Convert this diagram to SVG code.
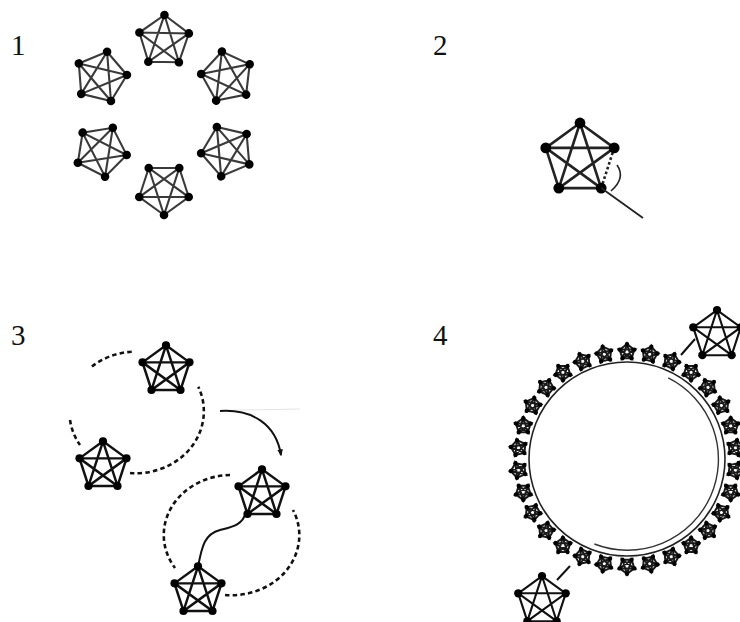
<svg xmlns="http://www.w3.org/2000/svg" xmlns:xlink="http://www.w3.org/1999/xlink" width="740" height="622" viewBox="0 0 740 622">
<style>
.lbl{font-family:"Liberation Serif","DejaVu Serif",serif;font-size:29px;fill:#111}
.p1{stroke:#3a3a3a;stroke-width:2.1;fill:#000}
.p3{stroke:#111;stroke-width:2.6;fill:#000}
.p4{stroke:#111;stroke-width:2.2;fill:#000}
.st{stroke:#1a1a1a;stroke-width:2;fill:#000}
.dash{fill:none;stroke:#111;stroke-width:2.6;stroke-dasharray:4.5 3.2}
.ln{fill:none;stroke:#111;stroke-width:2}
</style>
<defs>
<g id="k5">
<path fill="none" d="M0,-26 L24.73,-8.03 L15.28,21.03 L-15.28,21.03 L-24.73,-8.03 Z M0,-26 L15.28,21.03 L-24.73,-8.03 L24.73,-8.03 L-15.28,21.03 Z"/>
<g stroke="none">
<circle cx="0" cy="-26" r="4.3"/><circle cx="24.73" cy="-8.03" r="4.3"/><circle cx="15.28" cy="21.03" r="4.3"/><circle cx="-15.28" cy="21.03" r="4.3"/><circle cx="-24.73" cy="-8.03" r="4.3"/>
</g>
</g>
<g id="s5">
<path fill="none" d="M0,-7.8 L7.42,-2.41 L4.58,6.31 L-4.58,6.31 L-7.42,-2.41 Z M0,-7.8 L4.58,6.31 L-7.42,-2.41 L7.42,-2.41 L-4.58,6.31 Z"/>
<g stroke="none">
<circle cx="0" cy="-7.8" r="2.2"/><circle cx="7.42" cy="-2.41" r="2.2"/><circle cx="4.58" cy="6.31" r="2.2"/><circle cx="-4.58" cy="6.31" r="2.2"/><circle cx="-7.42" cy="-2.41" r="2.2"/>
</g>
</g>
<marker id="ah" viewBox="0 0 10 10" refX="8" refY="5" markerWidth="7" markerHeight="7" orient="auto-start-reverse" markerUnits="userSpaceOnUse">
<path d="M0,1 L10,5 L0,9 Z" fill="#111"/>
</marker>
</defs>

<g id="labels">
<text class="lbl" x="11" y="55">1</text>
<text class="lbl" x="433" y="55">2</text>
<text class="lbl" x="11" y="345">3</text>
<text class="lbl" x="433" y="345">4</text>
</g>

<!-- Panel 1 -->
<g id="panel1">
<use id="p1-top" class="p1" xlink:href="#k5" href="#k5" transform="translate(164,41) rotate(1)"/>
<use id="p1-tl" class="p1" xlink:href="#k5" href="#k5" transform="translate(101,77) rotate(85.5)"/>
<use id="p1-tr" class="p1" xlink:href="#k5" href="#k5" transform="translate(227,77) rotate(-83.3)"/>
<use id="p1-bl" class="p1" xlink:href="#k5" href="#k5" transform="translate(101,151) rotate(99)"/>
<use id="p1-br" class="p1" xlink:href="#k5" href="#k5" transform="translate(227,151) rotate(-95)"/>
<use id="p1-bot" class="p1" xlink:href="#k5" href="#k5" transform="translate(164,189) rotate(180)"/>
</g>

<!-- Panel 2 -->
<g id="panel2">
<g id="p2-clique" stroke="#222" stroke-width="2.6" fill="none">
<path d="M580,123 L545.8,147.9 M580,123 L614.2,147.9 M580,123 L601.2,188.1 M580,123 L558.8,188.1 M545.8,147.9 L614.2,147.9 M545.8,147.9 L601.2,188.1 M545.8,147.9 L558.8,188.1 M614.2,147.9 L558.8,188.1 M558.8,188.1 L601.2,188.1"/>
<path d="M614.2,147.9 L601.2,188.1" stroke-dasharray="2.5 2.5"/>
<g fill="#000" stroke="none">
<circle cx="580" cy="123" r="5.4"/><circle cx="545.8" cy="147.9" r="5.4"/><circle cx="614.2" cy="147.9" r="5.4"/><circle cx="558.8" cy="188.1" r="5.4"/><circle cx="601.2" cy="188.1" r="5.4"/>
</g>
</g>
<g id="p2-connectors">
<path d="M617,165 Q626,178 611,191" fill="none" stroke="#222" stroke-width="1.6"/>
<line x1="601.2" y1="188.1" x2="643" y2="218" stroke="#222" stroke-width="1.8"/>
</g>
</g>

<!-- Panel 3 -->
<g id="panel3">
<g id="p3-connectors">
<line x1="220" y1="410.5" x2="300" y2="409" stroke="#e4e4e4" stroke-width="1"/>
<path class="dash" d="M131.7,351.7 A68,62 0 0 0 91.7,366.7 M70,420 A68,62 0 0 0 80,445 M130,473 A68,62 0 0 0 198.3,386.7"/>
<path class="dash" d="M230,475 A68,60 0 0 0 175,568 M225,595 A68,60 0 0 0 293,510"/>
<path class="ln" d="M220,411 C252,409 276,424 281,455" marker-end="url(#ah)"/>
<path class="ln" d="M246,512 C243,525 232,527 220,530 C205,534 202,545 198,567"/>
</g>
<use id="p3-a" class="p3" xlink:href="#k5" href="#k5" transform="translate(166,370) scale(0.95)"/>
<use id="p3-b" class="p3" xlink:href="#k5" href="#k5" transform="translate(103,466) scale(0.95)"/>
<use id="p3-c" class="p3" xlink:href="#k5" href="#k5" transform="translate(262,494) scale(0.95)"/>
<use id="p3-d" class="p3" xlink:href="#k5" href="#k5" transform="translate(198,591) scale(0.95)"/>
</g>

<!-- Panel 4 -->
<g id="panel4">
<g id="p4-connectors">
<ellipse cx="627" cy="459" rx="98" ry="97" fill="none" stroke="#222" stroke-width="1.6"/>
<path d="M668.3,377.9 A91,91 0 0 1 594.4,544" fill="none" stroke="#333" stroke-width="1.4"/>
<line x1="695" y1="339" x2="681" y2="355" stroke="#111" stroke-width="2"/>
<line x1="570" y1="566" x2="557" y2="580" stroke="#111" stroke-width="2"/>
</g>
<g id="p4-ring" class="st">
<use xlink:href="#s5" href="#s5" transform="translate(627,352) rotate(0)"/>
<use xlink:href="#s5" href="#s5" transform="translate(649.7,354.3) rotate(12)"/>
<use xlink:href="#s5" href="#s5" transform="translate(671.3,361.3) rotate(24)"/>
<use xlink:href="#s5" href="#s5" transform="translate(691.1,372.4) rotate(36)"/>
<use xlink:href="#s5" href="#s5" transform="translate(708,387.4) rotate(48)"/>
<use xlink:href="#s5" href="#s5" transform="translate(721.4,405.5) rotate(60)"/>
<use xlink:href="#s5" href="#s5" transform="translate(730.7,425.9) rotate(72)"/>
<use xlink:href="#s5" href="#s5" transform="translate(735.4,447.8) rotate(84)"/>
<use xlink:href="#s5" href="#s5" transform="translate(735.4,470.2) rotate(96)"/>
<use xlink:href="#s5" href="#s5" transform="translate(730.7,492.1) rotate(108)"/>
<use xlink:href="#s5" href="#s5" transform="translate(721.4,512.5) rotate(120)"/>
<use xlink:href="#s5" href="#s5" transform="translate(708,530.6) rotate(132)"/>
<use xlink:href="#s5" href="#s5" transform="translate(691.1,545.6) rotate(144)"/>
<use xlink:href="#s5" href="#s5" transform="translate(671.3,556.7) rotate(156)"/>
<use xlink:href="#s5" href="#s5" transform="translate(649.7,563.7) rotate(168)"/>
<use xlink:href="#s5" href="#s5" transform="translate(627,566) rotate(180)"/>
<use xlink:href="#s5" href="#s5" transform="translate(604.3,563.7) rotate(192)"/>
<use xlink:href="#s5" href="#s5" transform="translate(582.7,556.7) rotate(204)"/>
<use xlink:href="#s5" href="#s5" transform="translate(562.9,545.6) rotate(216)"/>
<use xlink:href="#s5" href="#s5" transform="translate(546,530.6) rotate(228)"/>
<use xlink:href="#s5" href="#s5" transform="translate(532.6,512.5) rotate(240)"/>
<use xlink:href="#s5" href="#s5" transform="translate(523.3,492.1) rotate(252)"/>
<use xlink:href="#s5" href="#s5" transform="translate(518.6,470.2) rotate(264)"/>
<use xlink:href="#s5" href="#s5" transform="translate(518.6,447.8) rotate(276)"/>
<use xlink:href="#s5" href="#s5" transform="translate(523.3,425.9) rotate(288)"/>
<use xlink:href="#s5" href="#s5" transform="translate(532.6,405.5) rotate(300)"/>
<use xlink:href="#s5" href="#s5" transform="translate(546,387.4) rotate(312)"/>
<use xlink:href="#s5" href="#s5" transform="translate(562.9,372.4) rotate(324)"/>
<use xlink:href="#s5" href="#s5" transform="translate(582.7,361.3) rotate(336)"/>
<use xlink:href="#s5" href="#s5" transform="translate(604.3,354.3) rotate(348)"/>
</g>
<use id="p4-top" class="p4" xlink:href="#k5" href="#k5" transform="translate(717,335) scale(0.96)"/>
<use id="p4-bot" class="p4" xlink:href="#k5" href="#k5" transform="translate(542,601) scale(0.96)"/>
</g>
</svg>
